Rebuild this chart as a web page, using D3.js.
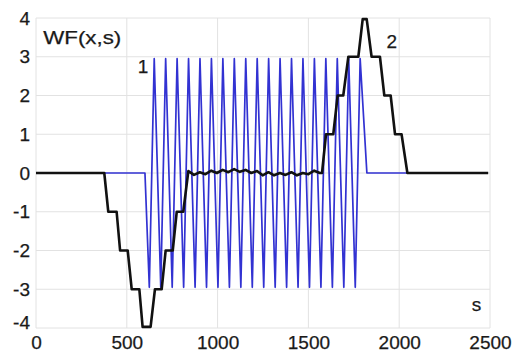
<!DOCTYPE html>
<html>
<head>
<meta charset="utf-8">
<script src="https://cdn.jsdelivr.net/npm/d3@7"></script>
<style>
  html, body { margin: 0; padding: 0; background: #fff; }
  svg text { font-family: Arial, "Liberation Sans", sans-serif; fill: #1a1a1a; stroke: #1a1a1a; stroke-width: 0.25px; }
</style>
</head>
<body>
<svg id="chart" width="531" height="352"></svg>
<script>
// ---- data ----
const xTicks = [0, 500, 1000, 1500, 2000, 2500];
const yTicks = [-4, -3, -2, -1, 0, 1, 2, 3, 4];

// curve 1 (blue): oscillation
const blueS = [0, 600, 624, 651, 687, 714, 750, 777, 813, 840, 876, 903, 939, 966, 1002, 1029,
  1065, 1092, 1128, 1155, 1191, 1218, 1254, 1281, 1317, 1344, 1380, 1407, 1443, 1470, 1506, 1533,
  1569, 1596, 1632, 1659, 1695, 1722, 1758, 1785, 1822, 2485];
const blueV = [0, 0, -2.95, 2.95, -2.95, 2.95, -2.95, 2.95, -2.95, 2.95, -2.95, 2.95, -2.95, 2.95, -2.95, 2.95,
  -2.95, 2.95, -2.95, 2.95, -2.95, 2.95, -2.95, 2.95, -2.95, 2.95, -2.95, 2.95, -2.95, 2.95, -2.95, 2.95,
  -2.95, 2.95, -2.95, 2.95, -2.95, 2.95, -2.95, 2.95, 0, 0];

// curve 2 (black): staircase
const blackS = [0, 376, 398, 444, 463, 505, 527, 569, 587, 631, 655, 692, 714, 753, 775, 811,
  839, 870, 902, 933, 965, 996, 1028, 1059, 1091, 1122, 1154, 1185, 1217, 1248, 1280, 1311,
  1343, 1374, 1406, 1437, 1469, 1500, 1532, 1563, 1575,
  1597, 1637, 1661, 1692, 1720, 1775, 1799, 1821, 1848, 1894, 1918, 1953, 1977, 2013, 2045, 2490];
const blackV = [0, 0, -1, -1, -2, -2, -3, -3, -3.97, -3.97, -3, -3, -2, -2, -1, -1,
  0.05, -0.05, 0.02, -0.03, 0.06, 0.0, 0.08, 0.02, 0.1, 0.03, 0.08, 0.0, 0.05, -0.06, 0.02, -0.06,
  0.0, -0.05, 0.02, -0.06, 0.0, -0.03, 0.06, 0.0, 0.0,
  1, 1, 2, 2, 3, 3, 3.97, 3.97, 3, 3, 2, 2, 1, 1, 0, 0];

// ---- layout ----
const W = 531, H = 352;
const m = { left: 36, right: 41, top: 18, bottom: 24 };
const svg = d3.select("#chart");

const x = d3.scaleLinear().domain([0, 2500]).range([m.left, W - m.right]);
const y = d3.scaleLinear().domain([-4, 4]).range([H - m.bottom, m.top]);

// grid
const grid = svg.append("g");
grid.selectAll("line.vx").data(xTicks).join("line")
  .attr("x1", d => x(d)).attr("x2", d => x(d))
  .attr("y1", y(-4)).attr("y2", y(4))
  .attr("stroke", "#e2e2e2").attr("stroke-width", 1);
grid.selectAll("line.hy").data(yTicks).join("line")
  .attr("x1", x(0)).attr("x2", x(2500))
  .attr("y1", d => y(d)).attr("y2", d => y(d))
  .attr("stroke", "#e2e2e2").attr("stroke-width", 1);

// axes (labels only)
const fmt = d => String(d);
const xAxis = d3.axisBottom(x).tickValues(xTicks).tickFormat(fmt).tickSize(0).tickPadding(8);
const gx = svg.append("g").attr("transform", `translate(0,${y(-4)})`).call(xAxis);
gx.select(".domain").remove();
gx.selectAll("text").style("font-size", "19px").attr("fill", "#1a1a1a");

const yAxis = d3.axisLeft(y).tickValues(yTicks).tickFormat(fmt).tickSize(0).tickPadding(6);
const gy = svg.append("g").attr("transform", `translate(${x(0)},0)`).call(yAxis);
gy.select(".domain").remove();
gy.selectAll("text").style("font-size", "19px").attr("fill", "#1a1a1a");
gy.selectAll(".tick").filter(d => d === -4).select("text").attr("dy", "0.05em");

// lines
const line = d3.line().x(d => x(d[0])).y(d => y(d[1]));
const blueData = blueS.map((s, i) => [s, blueV[i]]);
const blackData = blackS.map((s, i) => [s, blackV[i]]);

svg.append("path").datum(blueData).attr("d", line)
  .attr("fill", "none").attr("stroke", "#3232d2").attr("stroke-width", 1.7)
  .attr("stroke-linejoin", "round");
svg.append("path").datum(blackData).attr("d", line)
  .attr("fill", "none").attr("stroke", "#111").attr("stroke-width", 2.6)
  .attr("stroke-linejoin", "round");

// annotations
svg.append("text").attr("x", x(40)).attr("y", y(3.5)).attr("dy", "0.35em")
  .attr("textLength", 78).attr("lengthAdjust", "spacingAndGlyphs")
  .style("font-size", "19px").text("WF(x,s)");
svg.append("text").attr("x", x(560)).attr("y", y(2.75)).attr("dy", "0.35em")
  .style("font-size", "19px").text("1");
svg.append("text").attr("x", x(1930)).attr("y", y(3.4)).attr("dy", "0.35em")
  .style("font-size", "19px").text("2");
svg.append("text").attr("x", x(2400)).attr("y", y(-3.4)).attr("dy", "0.35em")
  .style("font-size", "19px").text("s");
</script>
</body>
</html>
